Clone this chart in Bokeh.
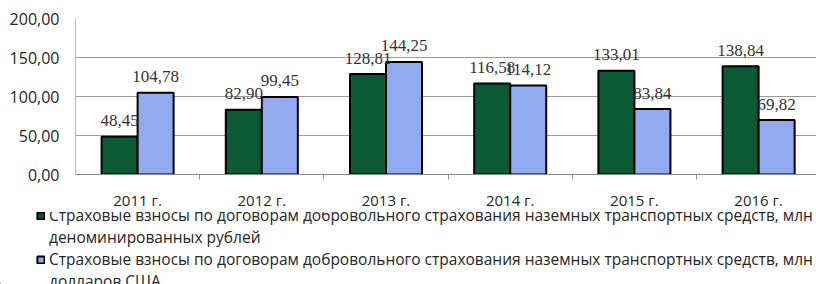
import numpy as np
from bokeh.plotting import figure
from bokeh.layouts import column
from bokeh.models import (ColumnDataSource, Range1d, FixedTicker, Legend, LegendItem,
                          LabelSet, CustomJSTickFormatter)
from bokeh.transform import dodge
from bokeh.embed import file_html
from bokeh.resources import INLINE

years = ["2011 г.", "2012 г.", "2013 г.", "2014 г.", "2015 г.", "2016 г."]
rub = [48.45, 82.90, 128.81, 116.58, 133.01, 138.84]
usd = [104.78, 99.45, 144.25, 114.12, 83.84, 69.82]
y_ticks = [0, 50, 100, 150, 200]
line_main = "Страховые взносы по договорам добровольного страхования наземных транспортных средств, млн"
tail_rub = "деноминированных рублей"
tail_usd = "долларов США"

def fmt(v):
    return f"{v:.2f}".replace(".", ",")

pos = np.arange(len(years)) + 0.5
src = ColumnDataSource(dict(x=pos, rub=rub, usd=usd,
                            rub_l=[fmt(v) for v in rub], usd_l=[fmt(v) for v in usd]))

FONT = "Open Sans"
GREEN = "#0b5a35"
BLUE = "#92aaf0"
TXT = "#262626"

p = figure(width=816, height=212, output_backend="svg", toolbar_location=None,
           x_range=Range1d(0, 5.966), y_range=Range1d(0, 200),
           min_border_left=75, min_border_right=0, min_border_top=18, min_border_bottom=32)
p.outline_line_color = None

g = p.vbar(x=dodge("x", -0.145, range=p.x_range), top="rub", width=0.29, source=src,
           fill_color=GREEN, line_color="black", line_width=2)
b = p.vbar(x=dodge("x", 0.145, range=p.x_range), top="usd", width=0.29, source=src,
           fill_color=BLUE, line_color="black", line_width=2)

for col, lab, off in (("rub", "rub_l", -0.145), ("usd", "usd_l", 0.145)):
    ls = LabelSet(x=dodge("x", off, range=p.x_range), y=col, text=lab, source=src,
                  y_offset=16, text_align="center", text_baseline="middle",
                  text_font=FONT, text_font_size="17px", text_color="#333333")
    p.add_layout(ls)

p.xaxis.ticker = FixedTicker(ticks=list(pos), minor_ticks=[1, 2, 3, 4, 5])
p.xaxis.major_label_overrides = {float(x): y for x, y in zip(pos, years)}
p.xaxis.major_tick_line_color = None
p.xaxis.minor_tick_out = 5
p.xaxis.minor_tick_in = 0
p.xaxis.minor_tick_line_color = "#999999"
p.xaxis.axis_line_color = "#888888"
p.xaxis.major_label_standoff = 9
p.xaxis.major_label_text_font = FONT
p.xaxis.major_label_text_font_size = "15px"
p.xaxis.major_label_text_color = TXT
p.xgrid.grid_line_color = None

p.yaxis.ticker = FixedTicker(ticks=y_ticks)
p.yaxis.formatter = CustomJSTickFormatter(code="return tick.toFixed(2).replace('.', ',');")
p.yaxis.major_tick_line_color = None
p.yaxis.minor_tick_line_color = None
p.yaxis.axis_line_color = "#bbbbbb"
p.yaxis.major_label_standoff = 10
p.yaxis.major_label_text_font = FONT
p.yaxis.major_label_text_font_size = "16px"
p.yaxis.major_label_text_color = TXT
p.ygrid.grid_line_color = "#999999"
p.ygrid.grid_line_width = 1

# legend panel below the chart (placeholder glyphs sit outside its view)
lp = figure(width=816, height=72, output_backend="svg", toolbar_location=None,
            x_range=Range1d(0, 1), y_range=Range1d(0, 1),
            x_axis_location=None, y_axis_location=None,
            min_border_left=0, min_border_right=0, min_border_top=0, min_border_bottom=0)
lp.outline_line_color = None
lp.grid.grid_line_color = None
for fig in (p, lp):
    try:
        fig.frame_align = False
    except Exception:
        pass
holder = ColumnDataSource(dict(x=[-5], top=[-5]))
lg = lp.vbar(x="x", top="top", width=0.1, source=holder, fill_color=GREEN, line_color="black", line_width=2)
lb = lp.vbar(x="x", top="top", width=0.1, source=holder, fill_color=BLUE, line_color="black", line_width=2)
ln = lp.vbar(x="x", top="top", width=0.1, source=holder, fill_alpha=0, line_alpha=0)

legend = Legend(items=[LegendItem(label=line_main, renderers=[lg], index=0),
                       LegendItem(label=tail_rub, renderers=[ln], index=0),
                       LegendItem(label=line_main, renderers=[lb], index=0),
                       LegendItem(label=tail_usd, renderers=[ln], index=0)],
                orientation="vertical",
                label_text_font=FONT, label_text_font_size="15.5px", label_text_color=TXT,
                glyph_width=9, glyph_height=9, spacing=0, padding=0, margin=0,
                label_standoff=4, border_line_color=None, background_fill_alpha=0,
                label_text_line_height=1.0, label_height=10)
legend.location = (36, -8)
lp.add_layout(legend, "center")

layout = column(p, lp, spacing=0)
open("out.html", "w").write(file_html(layout, INLINE))
